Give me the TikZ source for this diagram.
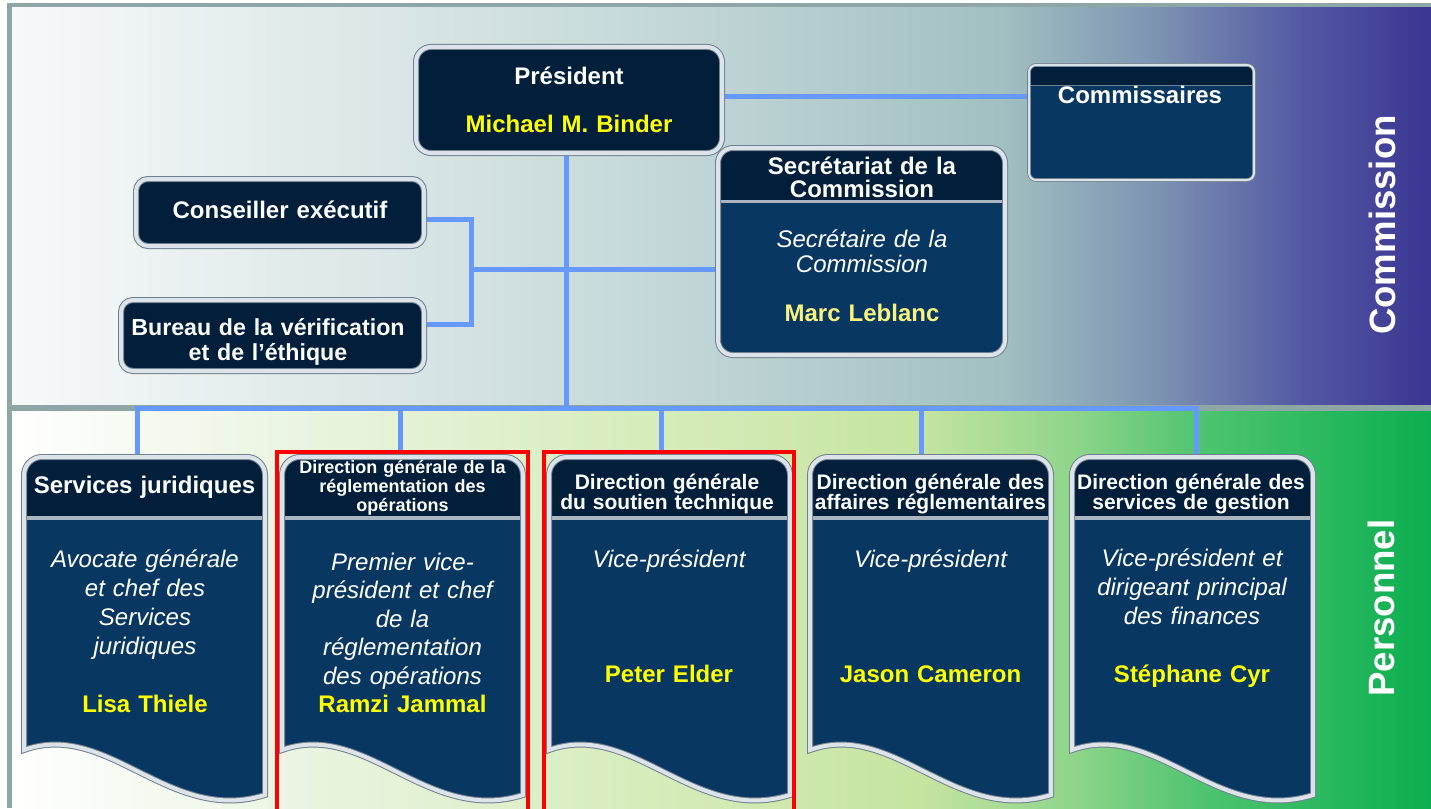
\documentclass[tikz,border=0pt]{standalone}
\usepackage{fontspec}
\setmainfont{Liberation Sans}
\definecolor{hdrblue}{HTML}{011E3A}
\definecolor{bodyblue}{HTML}{083862}
\definecolor{connblue}{HTML}{6699FF}
\definecolor{framegray}{HTML}{8FA6A7}
\definecolor{rimout}{HTML}{71808F}
\definecolor{rimin}{HTML}{DCE3E9}
\definecolor{sepgray}{HTML}{A9B5C1}
\definecolor{nameyellow}{HTML}{FFFF00}
\definecolor{paleyellow}{HTML}{F9F27E}
\definecolor{redframe}{HTML}{FF0000}
\definecolor{tA}{HTML}{F7F9F9}
\definecolor{tB}{HTML}{DDE8E9}
\definecolor{tC}{HTML}{C5D8D9}
\definecolor{tD}{HTML}{A2C0C1}
\definecolor{tE}{HTML}{7E96B2}
\definecolor{tF}{HTML}{5459A3}
\definecolor{tG}{HTML}{3A3592}
\definecolor{bA}{HTML}{FFFFFF}
\definecolor{bB}{HTML}{EAF4E1}
\definecolor{bC}{HTML}{D6ECBB}
\definecolor{bD}{HTML}{C6E4A0}
\definecolor{bE}{HTML}{8CD489}
\definecolor{bF}{HTML}{4FC470}
\definecolor{bG}{HTML}{0BAE50}
\newcommand{\wavepath}[1]{(#1+3,750) -- (#1+3,600) [rounded corners=18pt] -- (#1+3,457) -- (#1+244,457) -- (#1+244,600) [sharp corners] -- (#1+244,795) .. controls (#1+148,825) and (#1+87,720) .. (#1+3,750) -- cycle}
\tikzset{
  glass/.style={draw=rimout, double=rimin, double distance=4pt, line width=1pt},
  glassthin/.style={draw=rimout, double=rimin, double distance=2pt, line width=0.8pt},
  conn/.style={draw=connblue, line width=5pt},
  boxnode/.style={inner sep=0pt, outer sep=0pt},
  sepline/.style={draw=sepgray, line width=3.5pt},
  txt/.style={anchor=base, align=center, inner sep=0pt, text width=#1},
  boldw/.style={text=white, font=\bfseries\fontsize{24}{25}\selectfont},
  itw/.style={text=white, font=\itshape\fontsize{24}{29}\selectfont},
  nameY/.style={text=nameyellow, font=\bfseries\fontsize{24}{29}\selectfont},
  hdrA/.style={text=white, font=\bfseries\fontsize{21}{20.5}\selectfont},
  hdrB/.style={text=white, font=\bfseries\fontsize{18}{19}\selectfont},
  sidelabel/.style={text=white, font=\bfseries\fontsize{36.6}{40}\selectfont, rotate=90, inner sep=0pt}
}
\begin{document}
\begin{tikzpicture}[x=1pt,y=-1pt]
\useasboundingbox (0,0) rectangle (1431,808);
\fill[white] (0,0) rectangle (1431,808);
% top panel gradient
\shade[left color=tA,right color=tB] (12,7) rectangle (350.5,404.5);
\shade[left color=tB,right color=tC] (350,7) rectangle (650.5,404.5);
\shade[left color=tC,right color=tD] (650,7) rectangle (1000.5,404.5);
\shade[left color=tD,right color=tE] (1000,7) rectangle (1150.5,404.5);
\shade[left color=tE,right color=tF] (1150,7) rectangle (1300.5,404.5);
\shade[left color=tF,right color=tG] (1300,7) rectangle (1431,404.5);
% bottom panel gradient
\shade[left color=bA,right color=bB] (12,411) rectangle (300.5,808);
\shade[left color=bB,right color=bC] (300,411) rectangle (650.5,808);
\shade[left color=bC,right color=bD] (650,411) rectangle (920.5,808);
\shade[left color=bD,right color=bE] (920,411) rectangle (1080.5,808);
\shade[left color=bE,right color=bF] (1080,411) rectangle (1200.5,808);
\shade[left color=bF,right color=bG] (1200,411) rectangle (1431,808);
% frame
\fill[framegray] (7,3) rectangle (1431,7);
\fill[framegray] (7,3) rectangle (12,808);
\fill[framegray] (12,404.5) rectangle (1431,411);

% anchor nodes
\node[boxnode, minimum width=312pt, minimum height=112pt] (pres) at (569,100) {};
\node[boxnode, minimum width=229pt, minimum height=119pt] (comm) at (1141.5,122.5) {};
\node[boxnode, minimum width=293pt, minimum height=213pt] (sec) at (861.5,251.5) {};
\node[boxnode, minimum width=294pt, minimum height=73pt] (cons) at (280,212.5) {};
\node[boxnode, minimum width=309pt, minimum height=77pt] (bur) at (272.5,335.5) {};
\node[boxnode, minimum width=247pt, minimum height=350pt, anchor=north] (b1) at (144.5,454) {};
\node[boxnode, minimum width=247pt, minimum height=350pt, anchor=north] (b2) at (402.5,454) {};
\node[boxnode, minimum width=247pt, minimum height=350pt, anchor=north] (b3) at (669.5,454) {};
\node[boxnode, minimum width=247pt, minimum height=350pt, anchor=north] (b4) at (930.5,454) {};
\node[boxnode, minimum width=247pt, minimum height=350pt, anchor=north] (b5) at (1192.5,454) {};
\coordinate (jn) at (566,408.5);
\coordinate (brk) at (471,269);
\coordinate (d1) at (137,408.5);
\coordinate (d2) at (400,408.5);
\coordinate (d3) at (661,408.5);
\coordinate (d4) at (921,408.5);
\coordinate (d5) at (1196,408.5);

% connectors
\draw[conn] (pres.south -| jn) -- (jn);
\draw[conn] ([yshift=4pt]pres.east) -- ([yshift=4pt]pres.east -| comm.west);
\draw[conn] ([yshift=-6.5pt]cons.east) -| (brk) |- ([yshift=11.5pt]bur.east);
\draw[conn] (brk) -- (brk -| sec.west);
\draw[conn] (d1 |- b1.north) -- (d1) -- (d5) -- (d5 |- b5.north);
\draw[conn] (d2) -- (d2 |- b2.north);
\draw[conn] (d3) -- (d3 |- b3.north);
\draw[conn] (d4) -- (d4 |- b4.north);

% President
\path[fill=hdrblue, glass, rounded corners=15pt] (416,47) rectangle (722,153);
% Commissaires
\fill[bodyblue, rounded corners=7pt] (1029,65) rectangle (1254,180);
\begin{scope}
\clip[rounded corners=7pt] (1029,65) rectangle (1254,180);
\fill[hdrblue] (1020,60) rectangle (1260,85);
\draw[rimout, line width=1.6pt] (1020,85.5) -- (1260,85.5);
\end{scope}
\path[glassthin, rounded corners=7pt] (1029,65) rectangle (1254,180);
% Secretariat
\fill[bodyblue, rounded corners=15pt] (718,148) rectangle (1005,355);
\begin{scope}
\clip[rounded corners=15pt] (718,148) rectangle (1005,355);
\fill[hdrblue] (710,140) rectangle (1010,200);
\draw[sepline] (710,201.5) -- (1010,201.5);
\end{scope}
\path[glass, rounded corners=15pt] (718,148) rectangle (1005,355);
% Conseiller / Bureau
\path[fill=hdrblue, glass, rounded corners=12pt] (136,179) rectangle (424,246);
\path[fill=hdrblue, glass, rounded corners=12pt] (121,300) rectangle (424,371);
% bottom boxes
\foreach \L in {21,279,546,807,1069}{
  \fill[hdrblue] \wavepath{\L};
  \begin{scope}
  \clip \wavepath{\L};
  \fill[bodyblue] (\L,518) rectangle (\L+250,830);
  \draw[sepline] (\L,518) -- (\L+250,518);
  \end{scope}
  \path[glass] \wavepath{\L};
}
% red frames
\draw[redframe, line width=3.5pt] (277,452) rectangle (528,812);
\draw[redframe, line width=3.5pt] (544,452) rectangle (794,812);

% texts
\node[txt=300pt, boldw] (presT) at (569,84) {Président};
\node[txt=300pt, nameY] (presN) at (569,132) {Michael M. Binder};
\node[txt=220pt, boldw] (commT) at (1140,103) {Commissaires};
\node[txt=280pt, text=white, font=\bfseries\fontsize{24}{23}\selectfont] (secT) at (862,174) {Secrétariat de la\\Commission};
\node[txt=280pt, text=white, font=\itshape\fontsize{24}{25}\selectfont] (secR) at (862,247) {Secrétaire de la\\Commission};
\node[txt=280pt, text=paleyellow, font=\bfseries\fontsize{24}{25}\selectfont] (secN) at (862,321) {Marc Leblanc};
\node[txt=280pt, boldw] (consT) at (280,218) {Conseiller exécutif};
\node[txt=300pt, text=white, font=\bfseries\fontsize{23.2}{25}\selectfont] (burT) at (268,335) {Bureau de la vérification\\et de l’éthique};

\node[txt=240pt, boldw] (h1) at (144.5,493) {Services juridiques};
\node[txt=240pt, itw] (r1) at (145,567) {Avocate générale\\et chef des\\Services\\juridiques};
\node[txt=240pt, nameY] (n1) at (145,712) {Lisa Thiele};

\node[txt=240pt, hdrB] (h2) at (402.5,473) {Direction générale de la\\réglementation des\\opérations};
\node[txt=240pt, text=white, font=\itshape\fontsize{24}{28.5}\selectfont] (r2) at (402.5,570) {Premier vice-\\président et chef\\de la\\réglementation\\des opérations};
\node[txt=240pt, nameY] (n2) at (402.5,712) {Ramzi Jammal};

\node[txt=240pt, hdrA] (h3) at (667,489) {Direction générale\\du soutien technique};
\node[txt=240pt, itw] (r3) at (669,567) {Vice-président};
\node[txt=240pt, nameY] (n3) at (669,682) {Peter Elder};

\node[txt=240pt, hdrA] (h4) at (930.5,489) {Direction générale des\\affaires réglementaires};
\node[txt=240pt, itw] (r4) at (930.5,567) {Vice-président};
\node[txt=240pt, nameY] (n4) at (930.5,682) {Jason Cameron};

\node[txt=240pt, hdrA] (h5) at (1191,489) {Direction générale des\\services de gestion};
\node[txt=240pt, itw] (r5) at (1192,566) {Vice-président et\\dirigeant principal\\des finances};
\node[txt=240pt, nameY] (n5) at (1192,682) {Stéphane Cyr};

\node[sidelabel] (lblC) at (1382,225) {Commission};
\node[sidelabel] (lblP) at (1381,608) {Personnel};
\end{tikzpicture}
\end{document}
